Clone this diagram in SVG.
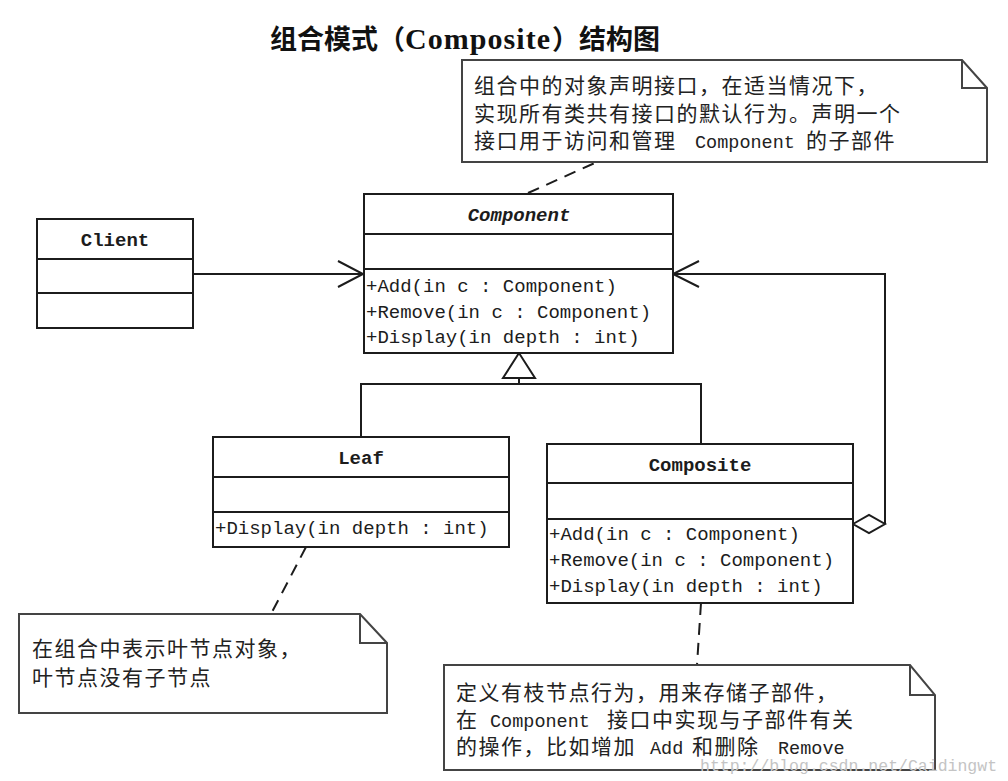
<svg xmlns="http://www.w3.org/2000/svg" width="1008" height="781" viewBox="0 0 1008 781">
<style>
.box{fill:#fff;stroke:#1c1c1c;stroke-width:2}
.ln{fill:none;stroke:#1c1c1c;stroke-width:2}
.dash{stroke-dasharray:12 8}
.note{fill:#fff;stroke:#444;stroke-width:2}
.mono{font-family:"Liberation Mono","DejaVu Sans Mono",monospace;font-size:19px;fill:#1c1c1c}
.name{font-weight:bold;text-anchor:middle}
.cn{font-family:"Noto Sans CJK SC","Noto Sans CJK JP",sans-serif;font-size:21px;letter-spacing:1.5px;fill:#222}
.lat{font-family:"Liberation Mono",monospace;font-size:18.5px;letter-spacing:0}
.title{font-family:"Noto Sans CJK SC",sans-serif;font-size:27px;font-weight:bold;fill:#111}
</style>
<rect width="1008" height="781" fill="#fff"/>

<g id="title">
<text class="title" x="270" y="49">组合模式（</text>
<text x="405" y="49" font-family="Liberation Serif,serif" font-size="30" font-weight="bold" fill="#111" textLength="145" lengthAdjust="spacing">Composite</text>
<text class="title" x="552" y="49">）结构图</text>
</g>

<g id="connectors">
<line class="ln" x1="193" y1="274" x2="363" y2="274"/>
<polyline class="ln" points="338,261 363,274 338,287"/>
<polyline class="ln" points="519,378 519,384"/>
<polyline class="ln" points="361,437 361,384 701,384 701,444"/>
<polygon class="box" points="519,353 503,378 535,378"/>
<polyline class="ln" points="885,524 885,274 673,274"/>
<polyline class="ln" points="699,261 673,274 699,287"/>
<polygon class="box" points="853,524 869,515 885,524 869,533"/>
<line class="ln dash" x1="528" y1="193" x2="597" y2="162"/>
<line class="ln dash" x1="306" y1="547" x2="271" y2="614"/>
<line class="ln dash" x1="701" y1="603" x2="697" y2="665"/>
</g>

<g id="note-component">
<path class="note" d="M462,60 H962 L987,88 V162 H462 Z"/>
<path class="ln" style="stroke:#444" d="M962,60 V88 H987"/>
<text class="cn" x="474" y="93">组合中的对象声明接口，在适当情况下，</text>
<text class="cn" x="474" y="121">实现所有类共有接口的默认行为。声明一个</text>
<text class="cn" x="474" y="148">接口用于访问和管理</text>
<text class="cn lat" x="695" y="148">Component</text>
<text class="cn" x="806" y="148">的子部件</text>
</g>

<g id="client">
<rect class="box" x="37" y="219" width="156" height="109"/>
<line class="ln" x1="37" y1="259" x2="193" y2="259"/>
<line class="ln" x1="37" y1="293" x2="193" y2="293"/>
<text class="mono name" x="115" y="246">Client</text>
</g>

<g id="component">
<rect class="box" x="364" y="194" width="309" height="159"/>
<line class="ln" x1="364" y1="234" x2="673" y2="234"/>
<line class="ln" x1="364" y1="269" x2="673" y2="269"/>
<text class="mono name" x="519" y="221" font-style="italic">Component</text>
<text class="mono" x="366" y="292">+Add(in c : Component)</text>
<text class="mono" x="366" y="318">+Remove(in c : Component)</text>
<text class="mono" x="366" y="343">+Display(in depth : int)</text>
</g>

<g id="leaf">
<rect class="box" x="213" y="437" width="296" height="110"/>
<line class="ln" x1="213" y1="477" x2="509" y2="477"/>
<line class="ln" x1="213" y1="512" x2="509" y2="512"/>
<text class="mono name" x="361" y="464">Leaf</text>
<text class="mono" x="215" y="534">+Display(in depth : int)</text>
</g>

<g id="composite">
<rect class="box" x="547" y="444" width="306" height="159"/>
<line class="ln" x1="547" y1="483" x2="853" y2="483"/>
<line class="ln" x1="547" y1="519" x2="853" y2="519"/>
<text class="mono name" x="700" y="471">Composite</text>
<text class="mono" x="549" y="540">+Add(in c : Component)</text>
<text class="mono" x="549" y="566">+Remove(in c : Component)</text>
<text class="mono" x="549" y="592">+Display(in depth : int)</text>
</g>

<g id="note-leaf">
<path class="note" d="M19,614 H360 L387,643 V713 H19 Z"/>
<path class="ln" style="stroke:#444" d="M360,614 V643 H387"/>
<text class="cn" x="32" y="656">在组合中表示叶节点对象，</text>
<text class="cn" x="32" y="685">叶节点没有子节点</text>
</g>

<g id="note-composite">
<path class="note" d="M444,665 H910 L935,695 V770 H444 Z"/>
<path class="ln" style="stroke:#444" d="M910,665 V695 H935"/>
<text class="cn" x="456" y="700">定义有枝节点行为，用来存储子部件，</text>
<text class="cn" x="456" y="727">在</text>
<text class="cn lat" x="490" y="727">Component</text>
<text class="cn" x="607" y="727">接口中实现与子部件有关</text>
<text class="cn" x="456" y="754">的操作，比如增加</text>
<text class="cn lat" x="650" y="754">Add</text>
<text class="cn" x="692" y="754">和删除</text>
<text class="cn lat" x="778" y="754">Remove</text>
</g>

<text x="700" y="771" font-family="Liberation Mono,monospace" font-size="16.5" fill="#c4c4c4">http://blog.csdn.net/Caidingwt</text>
</svg>
